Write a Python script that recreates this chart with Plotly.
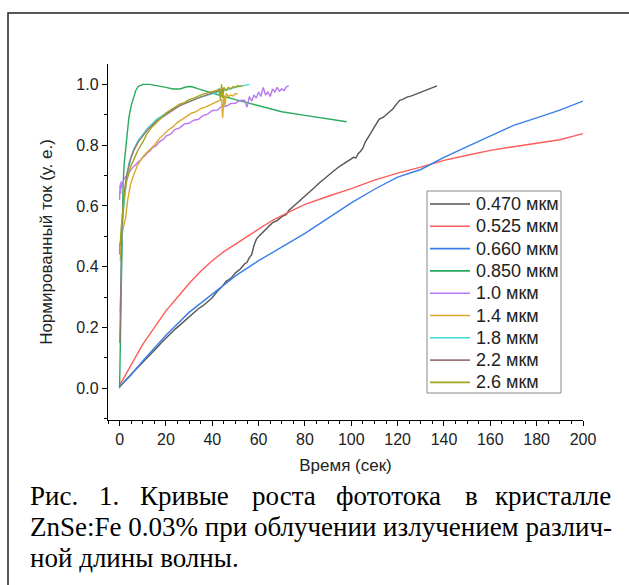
import plotly.graph_objects as go

# ---------------- data ----------------
labels = ["0.470 мкм", "0.525 мкм", "0.660 мкм", "0.850 мкм", "1.0 мкм",
          "1.4 мкм", "1.8 мкм", "2.2 мкм", "2.6 мкм"]
colors = ["#555555", "#ff5c5c", "#3a7ee8", "#2aaa5e", "#b878ee",
          "#dba92a", "#3cd9d9", "#9c7474", "#a3a31a"]

t470 = [0, 2, 4, 6, 8, 10, 12, 14, 16, 18, 20, 22, 24, 26, 28, 30, 32, 34, 36, 38, 40, 42, 44, 46, 48,
        50, 52, 54, 55, 56, 57, 58, 59, 60, 62, 64, 66, 68, 70, 72, 73, 74, 76, 78, 80, 82, 84, 86, 88,
        90, 92, 94, 96, 98, 100, 101, 102, 103, 104, 105, 106, 107, 108, 110, 112, 114, 116, 118, 120,
        121, 122, 124, 126, 128, 130, 132, 134, 136, 137]
v470 = [0.005, 0.02, 0.038, 0.055, 0.07, 0.087, 0.102, 0.118, 0.133, 0.15, 0.166, 0.18, 0.195, 0.208,
        0.222, 0.236, 0.247, 0.262, 0.272, 0.286, 0.298, 0.318, 0.333, 0.352, 0.362, 0.38, 0.392, 0.41,
        0.415, 0.43, 0.44, 0.47, 0.49, 0.50, 0.515, 0.53, 0.545, 0.552, 0.565, 0.572, 0.585, 0.592,
        0.605, 0.62, 0.632, 0.645, 0.66, 0.675, 0.688, 0.70, 0.715, 0.725, 0.735, 0.745, 0.755, 0.76,
        0.758, 0.772, 0.78, 0.79, 0.81, 0.825, 0.835, 0.86, 0.885, 0.893, 0.905, 0.92, 0.94, 0.948,
        0.95, 0.958, 0.962, 0.968, 0.972, 0.978, 0.985, 0.99, 0.995]

t525 = [0, 5, 10, 15, 20, 25, 30, 35, 40, 45, 50, 55, 60, 66, 73, 80, 90, 100, 110, 120, 130, 135,
        140, 150, 160, 170, 180, 190, 200]
v525 = [0.01, 0.08, 0.145, 0.2, 0.255, 0.3, 0.345, 0.385, 0.42, 0.45, 0.475, 0.5, 0.525, 0.553, 0.58,
        0.605, 0.632, 0.657, 0.685, 0.708, 0.728, 0.74, 0.75, 0.767, 0.783, 0.795, 0.806, 0.818, 0.838]

t660 = [0, 5, 10, 20, 30, 40, 50, 60, 70, 80, 90, 100, 110, 120, 130, 135, 140, 150, 160, 170, 180,
        190, 200]
v660 = [0.005, 0.045, 0.09, 0.175, 0.25, 0.31, 0.37, 0.42, 0.465, 0.51, 0.56, 0.61, 0.655, 0.695,
        0.72, 0.74, 0.76, 0.795, 0.83, 0.865, 0.89, 0.915, 0.945]

t850 = [0, 0.5, 1, 1.5, 2, 3, 4, 5, 6, 7, 8, 10, 13, 17, 20, 23, 26, 29, 31, 34, 37, 40, 45, 50, 55,
        60, 65, 70, 80, 90, 98]
v850 = [0.0, 0.2, 0.5, 0.67, 0.74, 0.82, 0.89, 0.93, 0.96, 0.98, 0.993, 1.0, 1.0, 0.995, 0.99, 0.985,
        0.985, 0.992, 0.993, 0.985, 0.978, 0.97, 0.96, 0.95, 0.94, 0.93, 0.918, 0.91, 0.898, 0.886, 0.877]

t10 = [0, 0.2, 0.4, 0.6, 0.8, 1, 1.5, 2, 3, 4, 5, 6, 7, 8, 9, 10, 11, 12, 13, 14, 15, 16, 17, 18, 19,
       20, 22, 24, 26, 28, 30, 32, 34, 36, 38, 40, 42, 44, 46, 48, 50, 52, 54, 55, 56, 57, 58, 59, 60,
       61, 62, 63, 64, 65, 66, 67, 68, 69, 70, 71, 72, 73]
v10 = [0.62, 0.67, 0.64, 0.68, 0.66, 0.67, 0.68, 0.69, 0.70, 0.71, 0.72, 0.73, 0.735, 0.745, 0.75,
       0.76, 0.765, 0.775, 0.78, 0.79, 0.795, 0.80, 0.81, 0.815, 0.82, 0.83, 0.836, 0.852, 0.857, 0.87,
       0.872, 0.882, 0.885, 0.897, 0.902, 0.914, 0.915, 0.927, 0.928, 0.937, 0.938, 0.947, 0.948, 0.925,
       0.96, 0.945, 0.965, 0.955, 0.975, 0.96, 0.99, 0.965, 0.975, 0.96, 0.985, 0.975, 0.99, 0.978,
       0.985, 0.98, 0.992, 0.995]

t14 = [0.3, 0.6, 1, 1.5, 2, 2.6, 3.5, 4.7, 6, 7.5, 9, 11, 13, 15, 17, 19, 21, 23, 25, 27, 29, 31, 33,
       35, 37, 39, 41, 43, 44, 44.5, 45, 45.5, 46, 47, 48, 49, 50, 51]
v14 = [0.42, 0.46, 0.5, 0.525, 0.54, 0.56, 0.62, 0.67, 0.70, 0.73, 0.75, 0.77, 0.785, 0.80, 0.82,
       0.835, 0.85, 0.86, 0.875, 0.885, 0.895, 0.905, 0.91, 0.92, 0.925, 0.932, 0.94, 0.945, 0.95,
       0.89, 0.965, 0.93, 0.97, 0.96, 0.965, 0.962, 0.97, 0.968]

t18 = [0.3, 0.6, 1, 1.5, 2, 3, 4, 5, 6, 8, 10, 12, 14, 16, 18, 20, 23, 26, 29, 32, 35, 38, 41, 44, 47,
       50, 53, 56]
v18 = [0.25, 0.4, 0.5, 0.57, 0.62, 0.69, 0.74, 0.765, 0.785, 0.815, 0.835, 0.855, 0.87, 0.885, 0.895,
       0.905, 0.92, 0.93, 0.94, 0.95, 0.958, 0.965, 0.972, 0.978, 0.984, 0.99, 0.995, 1.0]

t22 = [0.1, 0.4, 0.7, 1, 1.5, 2, 3, 4, 5, 6, 8, 10, 12, 14, 16, 18, 20, 23, 26, 29, 32, 35, 38, 41,
       43, 45]
v22 = [0.15, 0.3, 0.45, 0.53, 0.6, 0.645, 0.70, 0.735, 0.76, 0.78, 0.81, 0.83, 0.85, 0.865, 0.88,
       0.89, 0.90, 0.915, 0.93, 0.94, 0.95, 0.958, 0.966, 0.975, 0.98, 0.985]

t26 = [0, 0.1, 0.3, 0.6, 1, 1.5, 2, 3, 4, 5, 6, 7, 8, 10, 12, 14, 16, 18, 20, 22, 24, 26, 28, 30, 32,
       34, 36, 38, 40, 42, 43, 43.5, 44, 44.5, 45, 46, 47, 48, 49, 50, 51, 52, 53]
v26 = [0.44, 0.48, 0.47, 0.52, 0.56, 0.60, 0.63, 0.68, 0.71, 0.735, 0.75, 0.77, 0.785, 0.81, 0.84,
       0.86, 0.875, 0.89, 0.905, 0.915, 0.925, 0.935, 0.94, 0.95, 0.955, 0.962, 0.968, 0.972, 0.976,
       0.98, 0.985, 0.95, 1.0, 0.955, 0.99, 0.98, 0.99, 0.985, 0.993, 0.99, 0.996, 0.993, 0.997]

series_t = [t470, t525, t660, t850, t10, t14, t18, t22, t26]
series_v = [v470, v525, v660, v850, v10, v14, v18, v22, v26]

x_ticks = [0, 20, 40, 60, 80, 100, 120, 140, 160, 180, 200]
y_ticks = [0.0, 0.2, 0.4, 0.6, 0.8, 1.0]

x_title = "Время (сек)"
y_title = "Нормированный ток (у. е.)"
caption_line1 = ["Рис.", "1.", "Кривые", "роста", "фототока", "в", "кристалле"]
caption_line2 = "ZnSe:Fe 0.03% при облучении излучением различ-"
caption_line3 = "ной длины волны."

# ---------------- layout geometry ----------------
W, H = 629, 585
ML, MR, MT, MB = 108, 46, 64, 165
PW, PH = W - ML - MR, H - MT - MB


def px(xp):
    return (xp - ML) / PW


def py(yp):
    return (H - MB - yp) / PH


fig = go.Figure()
for t, v, name, c in zip(series_t, series_v, labels, colors):
    fig.add_trace(go.Scatter(x=t, y=v, mode="lines", name=name, showlegend=False,
                             line=dict(color=c, width=1.4)))

SANS = "Liberation Sans, Arial, sans-serif"
TICK_FONT = dict(family=SANS, size=16, color="#222")
TITLE_FONT = dict(family=SANS, size=17, color="#222")

fig.update_xaxes(range=[-5, 200], tickvals=x_ticks, ticks="outside", ticklen=5, tickwidth=1.3,
                 tickcolor="black", showline=True, linecolor="black", linewidth=1.4,
                 showgrid=False, zeroline=False, tickfont=TICK_FONT,
                 minor=dict(dtick=5, tick0=0, ticks="outside", ticklen=3, tickwidth=1.1,
                            tickcolor="black", showgrid=False),
                 title=dict(text=x_title, font=TITLE_FONT, standoff=11))
fig.update_yaxes(range=[-0.104, 1.067], tickvals=y_ticks, tickformat=".1f", ticks="outside",
                 ticklen=5, tickwidth=1.3, tickcolor="black", showline=True, linecolor="black",
                 linewidth=1.4, showgrid=False, zeroline=False, tickfont=TICK_FONT,
                 minor=dict(dtick=0.1, tick0=0, ticks="outside", ticklen=3, tickwidth=1.1,
                            tickcolor="black", showgrid=False),
                 title=dict(text=y_title, font=TITLE_FONT, standoff=19))

ann = []
shapes = []

# legend (drawn box, sample lines and labels)
LEG_X0, LEG_X1, LEG_Y0, LEG_Y1 = 427, 561, 191, 393
LEG_ROW0, LEG_DY = 204, 22.3
shapes.append(dict(type="rect", xref="paper", yref="paper", x0=px(LEG_X0), x1=px(LEG_X1),
                   y0=py(LEG_Y1), y1=py(LEG_Y0), line=dict(color="#888", width=1),
                   fillcolor="white", layer="above"))
for i, (name, c) in enumerate(zip(labels, colors)):
    yy = LEG_ROW0 + i * LEG_DY
    shapes.append(dict(type="line", xref="paper", yref="paper", x0=px(430), x1=px(470),
                       y0=py(yy), y1=py(yy), line=dict(color=c, width=1.6), layer="above"))
    ann.append(dict(text=name, x=px(474), y=py(yy), xref="paper", yref="paper",
                    xanchor="left", yanchor="middle", showarrow=False,
                    font=dict(family=SANS, size=18, color="#222")))

# caption (justified first line)
SERIF = dict(family="Liberation Serif, Times New Roman, serif", size=27, color="black")
line1_x = [28, 97, 138, 250, 334, 463]
for word, xx in zip(caption_line1[:-1], line1_x):
    ann.append(dict(text=word, x=px(xx), y=py(496), xref="paper", yref="paper",
                    xanchor="left", yanchor="middle", showarrow=False, font=SERIF))
ann.append(dict(text=caption_line1[-1], x=px(613), y=py(496), xref="paper", yref="paper",
                xanchor="right", yanchor="middle", showarrow=False, font=SERIF))
ann.append(dict(text=caption_line2, x=px(28), y=py(527), xref="paper", yref="paper",
                xanchor="left", yanchor="middle", showarrow=False, font=SERIF))
ann.append(dict(text=caption_line3, x=px(28), y=py(558), xref="paper", yref="paper",
                xanchor="left", yanchor="middle", showarrow=False, font=SERIF))

shapes.append(dict(type="rect", xref="paper", yref="paper", x0=px(8), x1=px(660), y0=py(620),
                   y1=py(13), line=dict(color="#222", width=1.5), fillcolor="rgba(0,0,0,0)",
                   layer="below"))

fig.update_layout(
    width=W, height=H, margin=dict(l=ML, r=MR, t=MT, b=MB, autoexpand=False),
    paper_bgcolor="white", plot_bgcolor="white",
    font=TICK_FONT, showlegend=False,
    annotations=ann, shapes=shapes,
)

fig.write_html("out.html")
